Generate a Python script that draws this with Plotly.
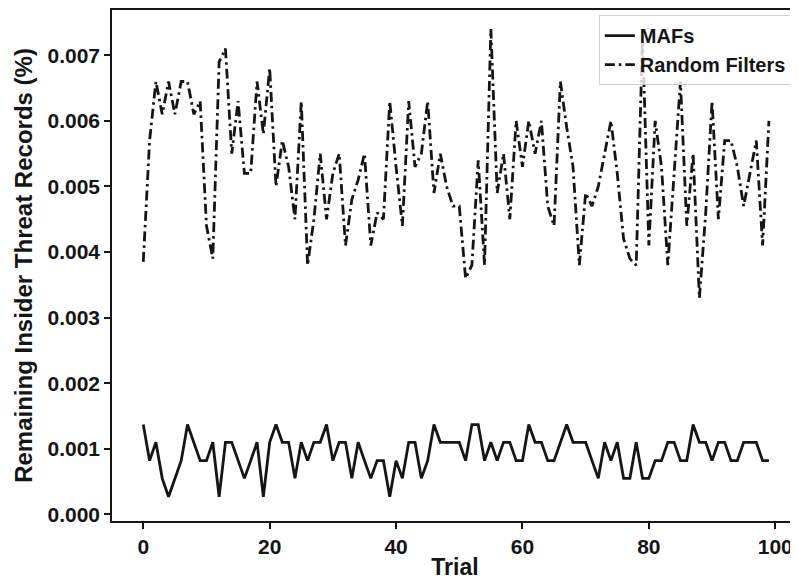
import plotly.graph_objects as go

trials = list(range(100))

mafs = [0.00137, 0.00082, 0.0011, 0.00055, 0.00027, 0.00055, 0.00082, 0.00137, 0.0011, 0.00082,
        0.00082, 0.0011, 0.00027, 0.0011, 0.0011, 0.00082, 0.00055, 0.00082, 0.0011, 0.00027,
        0.0011, 0.00137, 0.0011, 0.0011, 0.00055, 0.0011, 0.00082, 0.0011, 0.0011, 0.00137,
        0.00082, 0.0011, 0.0011, 0.00055, 0.0011, 0.00082, 0.00055, 0.00082, 0.00082, 0.00027,
        0.00082, 0.00055, 0.0011, 0.0011, 0.00055, 0.00082, 0.00137, 0.0011, 0.0011, 0.0011,
        0.0011, 0.00082, 0.00137, 0.00137, 0.00082, 0.0011, 0.00082, 0.0011, 0.0011, 0.00082,
        0.00082, 0.00137, 0.0011, 0.0011, 0.00082, 0.00082, 0.0011, 0.00137, 0.0011, 0.0011,
        0.0011, 0.00082, 0.00055, 0.0011, 0.00082, 0.0011, 0.00055, 0.00055, 0.0011, 0.00055,
        0.00055, 0.00082, 0.00082, 0.0011, 0.0011, 0.00082, 0.00082, 0.00137, 0.0011, 0.0011,
        0.00082, 0.0011, 0.0011, 0.00082, 0.00082, 0.0011, 0.0011, 0.0011, 0.00082, 0.00082]

random_filters = [0.00385, 0.0057, 0.0066, 0.0061, 0.0066, 0.0061, 0.0066, 0.0066, 0.0061, 0.0063,
                  0.0044, 0.0039, 0.0069, 0.0071, 0.0055, 0.0063, 0.0052, 0.0052, 0.0066, 0.0058,
                  0.0068, 0.0050, 0.0057, 0.0053, 0.0045, 0.0063, 0.0038, 0.0045, 0.0055, 0.0045,
                  0.0052, 0.0055, 0.0041, 0.0048, 0.0051, 0.0055, 0.0041, 0.0046, 0.0045, 0.0063,
                  0.0053, 0.0044, 0.0063, 0.0053, 0.0055, 0.0063, 0.0049, 0.0055, 0.0050, 0.0047,
                  0.0047, 0.0036, 0.0038, 0.0054, 0.0038, 0.0074, 0.0049, 0.0055, 0.0045, 0.0060,
                  0.0053, 0.0060, 0.0055, 0.0060, 0.0047, 0.0044, 0.0066, 0.0059, 0.0053, 0.0038,
                  0.0049, 0.0047, 0.0050, 0.0055, 0.0060, 0.0052, 0.0042, 0.0039, 0.0038, 0.0073,
                  0.0041, 0.0060, 0.0053, 0.0038, 0.0052, 0.0066, 0.0044, 0.0055, 0.0033, 0.0046,
                  0.0063, 0.0045, 0.0057, 0.0057, 0.0053, 0.0047, 0.0052, 0.0057, 0.0041, 0.0060]

x_ticks = [0, 20, 40, 60, 80, 100]
y_ticks = [0.000, 0.001, 0.002, 0.003, 0.004, 0.005, 0.006, 0.007]

FONT = "Liberation Sans"
INK = "#151515"

fig = go.Figure()
fig.add_trace(go.Scatter(x=trials, y=mafs, mode="lines", name="MAFs",
                         line=dict(color=INK, width=2.8)))
fig.add_trace(go.Scatter(x=trials, y=random_filters, mode="lines", name="Random Filters",
                         line=dict(color=INK, width=2.8, dash="10px,4px,2.5px,4px")))

fig.update_layout(
    width=790, height=572,
    margin=dict(l=104, r=0, t=0, b=59),
    paper_bgcolor="white", plot_bgcolor="white",
    font=dict(family=FONT, color=INK),
    showlegend=True,
    legend=dict(x=0.991, y=0.99, xanchor="right", yanchor="top",
                bgcolor="rgba(255,255,255,0.8)", bordercolor="#d0d0d0", borderwidth=1,
                font=dict(family=FONT, size=20, color=INK, weight="bold"),
                tracegroupgap=2),
    xaxis=dict(range=[-4.95, 103.6], tickmode="array", tickvals=x_ticks,
               ticktext=[str(v) for v in x_ticks], ticklabeloverflow="allow",
               showgrid=False, zeroline=False, showline=True, linecolor=INK,
               linewidth=1.5, mirror=True, ticks="outside", ticklen=6, tickwidth=1.5,
               tickcolor=INK,
               tickfont=dict(family=FONT, size=21, color=INK, weight="bold"),
               title=dict(text="Trial", standoff=5,
                          font=dict(family=FONT, size=23, color=INK, weight="bold"))),
    yaxis=dict(range=[-0.0001, 0.00769], tickmode="array", tickvals=y_ticks,
               ticktext=["%.3f" % v for v in y_ticks],
               showgrid=False, zeroline=False, showline=True, linecolor=INK,
               linewidth=1.5, mirror=False, ticks="outside", ticklen=6, tickwidth=1.5,
               tickcolor=INK,
               tickfont=dict(family=FONT, size=21, color=INK, weight="bold"),
               title=dict(text="Remaining Insider Threat Records (%)", standoff=8,
                          font=dict(family=FONT, size=24, color=INK, weight="bold"))),
)

fig.write_html("out.html")
